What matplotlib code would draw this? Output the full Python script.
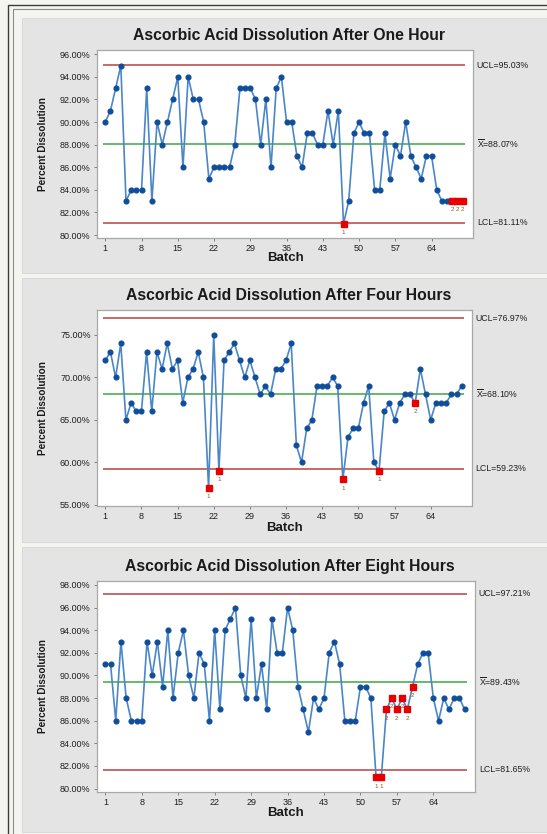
import numpy as np
import matplotlib
matplotlib.use('Agg')
import matplotlib.pyplot as plt
from matplotlib.patches import Rectangle

# figure size in pixels
W, H = 547, 834

batches = np.arange(1, 71)

# percent dissolved
one_hour = [90, 91, 93, 95, 83, 84, 84, 84, 93, 83,
            90, 88, 90, 92, 94, 86, 94, 92, 92, 90,
            85, 86, 86, 86, 86, 88, 93, 93, 93, 92,
            88, 92, 86, 93, 94, 90, 90, 87, 86, 89,
            89, 88, 88, 91, 88, 91, 81, 83, 89, 90,
            89, 89, 84, 84, 89, 85, 88, 87, 90, 87,
            86, 85, 87, 87, 84, 83, 83, 83, 83, 83]
four_hours = [72, 73, 70, 74, 65, 67, 66, 66, 73, 66,
              73, 71, 74, 71, 72, 67, 70, 71, 73, 70,
              57, 75, 59, 72, 73, 74, 72, 70, 72, 70,
              68, 69, 68, 71, 71, 72, 74, 62, 60, 64,
              65, 69, 69, 69, 70, 69, 58, 63, 64, 64,
              67, 69, 60, 59, 66, 67, 65, 67, 68, 68,
              67, 71, 68, 65, 67, 67, 67, 68, 68, 69]
eight_hours = [91, 91, 86, 93, 88, 86, 86, 86, 93, 90,
               93, 89, 94, 88, 92, 94, 90, 88, 92, 91,
               86, 94, 87, 94, 95, 96, 90, 88, 95, 88,
               91, 87, 95, 92, 92, 96, 94, 89, 87, 85,
               88, 87, 88, 92, 93, 91, 86, 86, 86, 89,
               89, 88, 81, 81, 87, 88, 87, 88, 87, 89,
               91, 92, 92, 88, 86, 88, 87, 88, 88, 87]

titles = ["Ascorbic Acid Dissolution After One Hour",
          "Ascorbic Acid Dissolution After Four Hours",
          "Ascorbic Acid Dissolution After Eight Hours"]
ucl_vals = [95.03, 76.97, 97.21]
center_vals = [88.07, 68.10, 89.43]
lcl_vals = [81.11, 59.23, 81.65]
ytick_sets = [np.arange(80, 97, 2), np.arange(55, 76, 5), np.arange(80, 99, 2)]
xtick_vals = [1, 8, 15, 22, 29, 36, 43, 50, 57, 64]

# layout in pixels: (left, top, right, bottom)
frames = [(97, 50, 473, 238), (97, 310, 472, 505.5), (97, 581, 475, 792)]
ylims = [(79.74, 96.38), (54.92, 77.94), (79.70, 98.35)]
panels = [(22, 18, 547, 273), (22, 278, 547, 542), (22, 547, 547, 832)]
title_y = [35, 296, 566]
xlabel_y = [258, 528, 813]

plt.rcParams['font.family'] = ['Liberation Sans', 'DejaVu Sans']
plt.rcParams['mathtext.fontset'] = 'custom'
plt.rcParams['mathtext.rm'] = 'Liberation Sans'

fig = plt.figure(figsize=(W / 100, H / 100), dpi=100)
fig.patch.set_facecolor('#f4f4f0')


def fx(x):
    return x / W


def fy(y):
    return 1 - y / H


def box(l, t, r, b, **kw):
    fig.add_artist(Rectangle((fx(l), fy(b)), fx(r) - fx(l), fy(t) - fy(b),
                             transform=fig.transFigure, zorder=-5, **kw))


# outer double border
box(8, 5, 560, 850, facecolor='none', edgecolor='#3a3a3a', lw=1.0)
box(13, 9, 560, 850, facecolor='none', edgecolor='#8a8a8a', lw=0.8)
for p in panels:
    box(*p, facecolor='#e4e4e4', edgecolor='#d6d6d6', lw=0.6)


def flags(vals, ucl, cl, lcl):
    # test 1: beyond limits, test 2: nine points in a row on one side
    out = {}
    run, side = 0, 0
    for i, v in enumerate(vals):
        s = 1 if v > cl else -1
        run = run + 1 if s == side else 1
        side = s
        if v > ucl or v < lcl:
            out[i] = '1'
        elif run >= 9:
            out[i] = '2'
    return out


series = [one_hour, four_hours, eight_hours]
for k in range(3):
    l, t, r, b = frames[k]
    ax = fig.add_axes([fx(l), fy(b), fx(r) - fx(l), fy(t) - fy(b)])
    ax.set_facecolor('white')
    vals = series[k]
    ucl, cl, lcl = ucl_vals[k], center_vals[k], lcl_vals[k]

    ax.hlines([ucl, lcl], 0.6, 70.5, colors='#c0504d', lw=1.2, zorder=2)
    ax.hlines(cl, 0.6, 70.5, colors='#4caf50', lw=1.2, zorder=2)
    ax.plot(batches, vals, color='#4a86c8', lw=1.2, zorder=3)
    ax.plot(batches, vals, 'o', color='#104e9c', ms=3.4, zorder=4)

    bad = flags(vals, ucl, cl, lcl)
    for i, lab in bad.items():
        ax.plot(batches[i], vals[i], 's', color='#e80000', ms=4.2, zorder=5)
        ax.annotate(lab, (batches[i], vals[i]), xytext=(0, -4.5),
                    textcoords='offset points', ha='center', va='top',
                    fontsize=4.5, color='#8a5a2b')

    ax.set_xlim(-0.6, 72.0)
    ax.set_ylim(*ylims[k])
    ax.set_xticks(xtick_vals)
    ax.set_yticks(ytick_sets[k])
    ax.set_yticklabels(['%.2f%%' % v for v in ytick_sets[k]])
    ax.tick_params(labelsize=6.5, length=2.5, width=0.6, pad=2, color='#707070',
                   labelcolor='#202020')
    for sp in ax.spines.values():
        sp.set_color('#a8a8a8')
        sp.set_linewidth(0.9)

    ax.text(1.01, ucl, 'UCL=%.2f%%' % ucl, transform=ax.get_yaxis_transform(),
            va='center', ha='left', fontsize=6.3, color='#202020', clip_on=False)
    ax.text(1.01, cl, r'$\overline{\mathrm{X}}$=%.2f%%' % cl,
            transform=ax.get_yaxis_transform(), va='center', ha='left',
            fontsize=6.3, color='#202020', clip_on=False)
    ax.text(1.01, lcl, 'LCL=%.2f%%' % lcl, transform=ax.get_yaxis_transform(),
            va='center', ha='left', fontsize=6.3, color='#202020', clip_on=False)

    fig.text(fx((l + r) / 2 + 4), fy(title_y[k]), titles[k], ha='center',
             va='center', fontsize=11.3, fontweight='bold', color='#1a1a1a')
    fig.text(fx((l + r) / 2), fy(xlabel_y[k]), 'Batch', ha='center', va='center',
             fontsize=9.5, fontweight='bold', color='#1a1a1a')
    fig.text(fx(43), fy((t + b) / 2), 'Percent Dissolution', rotation=90,
             ha='center', va='center', fontsize=7.2, fontweight='bold',
             color='#1a1a1a')

fig.savefig('out.png', dpi=100, facecolor=fig.get_facecolor())
